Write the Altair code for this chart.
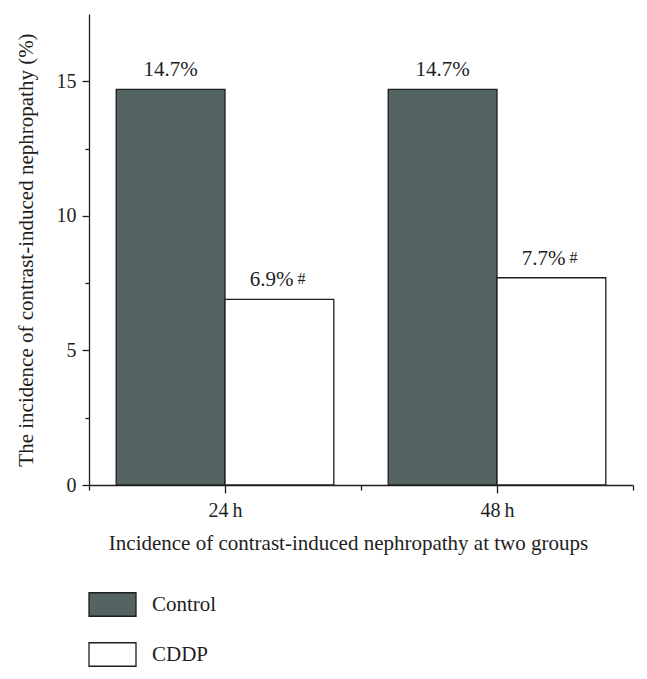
import altair as alt
import pandas as pd

groups = ["24\u2009h", "48\u2009h"]
series = ["Control", "CDDP"]
control = [14.7, 14.7]
cddp = [6.9, 7.7]
cddp_flags = ["#", "#"]  # significance marks on CDDP bars

rows = []
for gi, g in enumerate(groups):
    rows.append({"group": g, "gi": gi, "series": "Control", "si": 0,
                 "value": control[gi], "flag": ""})
    rows.append({"group": g, "gi": gi, "series": "CDDP", "si": 1,
                 "value": cddp[gi], "flag": cddp_flags[gi]})
df = pd.DataFrame(rows)

FONT = "Liberation Serif"
INK = "#1e1e1e"
FILL = "#546462"

xscale = alt.Scale(domain=[0, 4], nice=False, zero=False)
yscale = alt.Scale(domain=[0, 17.5], nice=False)

label_expr = " : ".join(
    [f"datum.value == {2*i+1} ? '{g}'" for i, g in enumerate(groups)]) + " : ''"

base = alt.Chart(df).transform_calculate(
    x0="2*datum.gi + (datum.si == 0 ? 0.2 : 1)",
    x1="2*datum.gi + (datum.si == 0 ? 1 : 1.8)",
    xm="2*datum.gi + (datum.si == 0 ? 0.6 : 1.4)",
    lab="format(datum.value, '.1f') + '%'",
)

bars = base.mark_bar(stroke=INK, strokeWidth=1.3).encode(
    x=alt.X("x0:Q", scale=xscale,
            axis=alt.Axis(values=[0, 1, 2, 3, 4], labelExpr=label_expr,
                          title="Incidence of contrast-induced nephropathy at two groups",
                          tickSize={"condition": {"test": "datum.value % 2 == 1", "value": 8}, "value": 5},
                          labelPadding=7, titlePadding=12, titleX=259, grid=False)),
    x2="x1:Q",
    y=alt.Y("value:Q", scale=yscale,
            axis=alt.Axis(values=[0, 2.5, 5, 7.5, 10, 12.5, 15],
                          labelExpr="datum.value % 5 == 0 ? datum.label : ''",
                          title="The incidence of contrast-induced nephropathy (%)",
                          tickSize={"condition": {"test": "datum.value % 5 == 0", "value": 7}, "value": 4},
                          labelPadding=6, titlePadding=20, grid=False)),
    y2=alt.datum(0),
    fill=alt.Fill("series:N", scale=alt.Scale(domain=series, range=[FILL, "#ffffff"]),
                  legend=alt.Legend(title=None, orient="none", legendX=-1, legendY=566,
                                    symbolType="M-1,-0.5L1,-0.5L1,0.5L-1,0.5Z",
                                    symbolSize=2209, symbolStrokeColor=INK,
                                    symbolStrokeWidth=1.3, rowPadding=11,
                                    labelOffset=15, labelFontSize=21, labelFont=FONT,
                                    labelColor=INK, padding=0)),
)

ctrl_text = base.transform_filter("datum.si == 0").mark_text(
    baseline="bottom", dy=-9, fontSize=21, font=FONT, color=INK
).encode(x="xm:Q", y="value:Q", text="lab:N")

cddp_text = base.transform_filter("datum.si == 1").mark_text(
    baseline="bottom", align="right", dx=14, dy=-9, fontSize=21, font=FONT, color=INK
).encode(x="xm:Q", y="value:Q", text="lab:N")

flag_text = base.transform_filter("datum.si == 1").mark_text(
    baseline="bottom", align="left", dx=18, dy=-12, fontSize=16, font=FONT, color=INK
).encode(x="xm:Q", y="value:Q", text="flag:N")

chart = alt.layer(bars, ctrl_text, cddp_text, flag_text).properties(
    width=544, height=471,
    autosize=alt.AutoSizeParams(type="none"),
    padding={"left": 81, "top": 6, "right": 6, "bottom": 186},
).configure_view(stroke=None).configure_axis(
    labelFont=FONT, titleFont=FONT, labelFontSize=20, titleFontSize=21,
    titleFontWeight="normal", labelColor=INK, titleColor=INK,
    domainColor=INK, tickColor=INK, domainWidth=1.3, tickWidth=1.3,
).configure_axisY(labelBaseline="middle")

chart.save("out.html", embed_options={"renderer": "svg", "actions": False})
